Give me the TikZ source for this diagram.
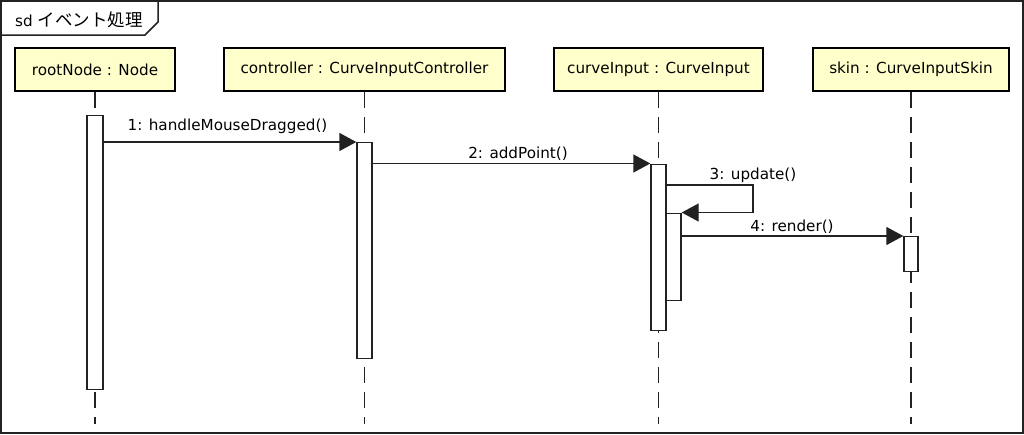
\documentclass[tikz,border=0pt]{standalone}
\usepackage{fontspec}
\setmainfont{DejaVu Sans}
\newfontfamily\jpfont{Noto Sans CJK JP}
\usetikzlibrary{arrows.meta}
\definecolor{headfill}{HTML}{FFFFCC}
\definecolor{ink}{HTML}{222222}
\begin{document}
\begin{tikzpicture}[x=1pt,y=-1pt,
  head/.style={draw=black, line width=2.6pt, fill=headfill, minimum height=43pt,
    inner sep=0pt, font=\fontsize{15.2}{18}\selectfont},
  bar/.style={draw=ink, line width=1.4pt, fill=white, minimum width=15pt,
    inner sep=0pt, anchor=north},
  life/.style={draw=ink, line width=1.4pt, dash pattern=on 16pt off 9pt},
  msg/.style={draw=ink, line width=1.4pt, -{Triangle[length=17pt,width=18pt]}},
  lbl/.style={font=\fontsize{15.2}{18}\selectfont, inner sep=0pt, anchor=base, text=black}]
\useasboundingbox (0,0) rectangle (1024,434);
% frame
\draw[ink, line width=1.5pt] (1,1) rectangle (1023,433);
\draw[ink, line width=1.5pt] (1,35) -- (145,35) -- (158,22) -- (158,1);
\node[lbl, anchor=base west] (title) at (15,26) {sd {\jpfont\fontsize{17.5}{18}\selectfont イベント処理}};
% heads
\node[head, minimum width=160pt] (root) at (95,69.5) {rootNode : Node};
\node[head, minimum width=281pt] (ctrl) at (364.5,69.5) {controller : CurveInputController};
\node[head, minimum width=209pt] (ci) at (658.5,69.5) {curveInput : CurveInput};
\node[head, minimum width=196pt] (skin) at (911,69.5) {skin : CurveInputSkin};
% lifeline ends
\coordinate (rootEnd) at (95,424);
\coordinate (ctrlEnd) at (364.5,424);
\coordinate (ciEnd) at (658.5,424);
\coordinate (skinEnd) at (911,424);
\draw[life] (root.south) -- (rootEnd);
\draw[life] (ctrl.south) -- (ctrlEnd);
\draw[life] (ci.south) -- (ciEnd);
\draw[life] (skin.south) -- (skinEnd);
% activation bars
\node[bar, minimum width=16pt, minimum height=274pt] (rootA) at (95,115) {};
\node[bar, minimum height=216pt] (ctrlA) at (364.5,142) {};
\node[bar, minimum height=166pt] (ciA) at (658.5,163.5) {};
\node[bar, minimum height=87pt] (ciB) at (673.5,212.5) {};
\node[bar, minimum width=14pt, minimum height=35pt] (skinA) at (911,236) {};
% messages
\draw[msg] (rootA.east |- ctrlA.north) -- (ctrlA.north west);
\node[lbl] (l1) at (227.5,130) {1: handleMouseDragged()};
\draw[msg] (ctrlA.east |- ciA.north) -- (ciA.north west);
\node[lbl] (l2) at (518,158) {2: addPoint()};
\coordinate (selfR) at (753,185);
\draw[msg] (ciA.east |- selfR) -- (selfR) -- (selfR |- ciB.north) -- (ciB.north east);
\node[lbl] (l3) at (753,179) {3: update()};
\draw[msg] (ciB.east |- skinA.north) -- (skinA.north west);
\node[lbl] (l4) at (792,231.5) {4: render()};
\end{tikzpicture}
\end{document}
